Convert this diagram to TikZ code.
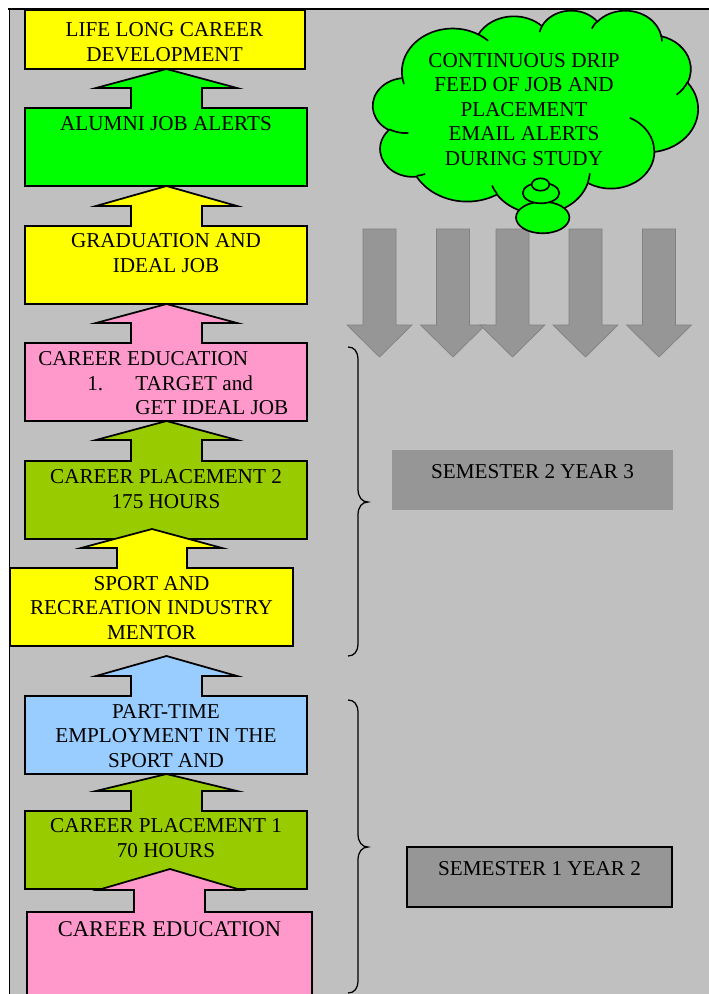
\documentclass[tikz,border=0pt]{standalone}
\usepackage{fontspec}
\setmainfont{Liberation Serif}
\definecolor{bg}{HTML}{C0C0C0}
\definecolor{cyel}{HTML}{FFFF00}
\definecolor{cgrn}{HTML}{00FF00}
\definecolor{cpnk}{HTML}{FF99CC}
\definecolor{colv}{HTML}{99CC00}
\definecolor{cblu}{HTML}{99CCFF}
\definecolor{cgry}{HTML}{969696}
% parametric start/end angles of a DrawingML arcTo (visual angles)
\newcommand\setarc[6]{%
  \pgfmathsetmacro#1{atan2((#3)*sin(#5),(#4)*cos(#5))}%
  \pgfmathsetmacro\tmpE{atan2((#3)*sin((#5)+(#6)),(#4)*cos((#5)+(#6)))}%
  \pgfmathsetmacro#2{#1+mod(\tmpE-#1+720,360)}%
}
\setarc\oAs\oAe{67.53}{91.90}{-190.48748}{123.78053}
\setarc\oBs\oBe{53.33}{72.67}{-144.10238}{89.94523}
\setarc\oCs\oCe{43.65}{59.45}{-145.80792}{99.72302}
\setarc\oDs\oDe{48.57}{65.95}{-130.98607}{117.24173}
\setarc\oEs\oEe{53.33}{72.73}{-78.70888}{109.02692}
\setarc\oFs\oFe{67.75}{92.20}{-46.26725}{130.269}
\setarc\oGs\oGe{57.85}{78.67}{0.62502}{114.03333}
\setarc\oHs\oHe{67.52}{92.15}{22.4516}{115.17255}
\setarc\oIs\oIe{77.20}{105.43}{66.24263}{75.71102}
\setarc\oJs\oJe{43.60}{59.18}{-274.94208}{146.73557}
\setarc\oKs\oKe{43.45}{59.45}{-246.8285}{152.51885}
\setarc\iLs\iLe{43.45}{59.45}{86.742}{26.4295}
\setarc\iMs\iMe{43.60}{59.18}{73.61047}{11.44747}
\setarc\iNs\iNe{67.52}{92.15}{137.62415}{14.0811}
\setarc\iOs\iOe{67.52}{92.15}{6.45327}{15.99835}
\setarc\iPs\iPe{57.85}{78.67}{-70.29235}{70.91737}
\setarc\iQs\iQe{53.33}{72.73}{30.31803}{27.7515}
\setarc\iRs\iRe{48.57}{65.95}{-13.74433}{14.8589}
\setarc\iSs\iSe{48.57}{65.95}{-149.18145}{18.19537}
\setarc\iTs\iTe{43.65}{59.45}{-163.49427}{17.68635}
\setarc\iUs\iUe{67.53}{91.90}{-66.70695}{12.31935}
\setarc\iVs\iVe{67.53}{91.90}{157.65435}{11.85817}
\tikzset{
  callout/.style={draw=black, line width=1.05pt, line join=miter},
  txt/.style={inner sep=0pt, anchor=base, align=center, font=\fontsize{12.7}{14.7}\selectfont},
  txtl/.style={inner sep=0pt, anchor=base west, font=\fontsize{12.7}{14.7}\selectfont},
  darr/.style={fill=cgry, draw=cgry!85!black, line width=0.4pt},
  bracel/.style={draw=black, line width=0.75pt},
  cloudline/.style={draw=black, line width=1pt},
}
\begin{document}
\begin{tikzpicture}[x=0.6pt, y=-0.6pt, line join=miter]
\useasboundingbox (0,0) rectangle (708,994);
% frame
\fill[bg] (9.5,9) rectangle (712,1000);
\draw[line width=1.1pt] (8,9) -- (712,9);
\draw[line width=0.7pt] (9.6,9) -- (9.6,1000);
% grey down arrows
\foreach \c in {379.5,453,512.5,585.5,659}
  \draw[darr] (\c-16.5,229) -- (\c+16.5,229) -- (\c+16.5,325) -- (\c+32.5,325)
     -- (\c,357) -- (\c-32.5,325) -- (\c-16.5,325) -- cycle;
% cloud
\begin{scope}[shift={(373,10)}, xscale=0.75231, yscale=0.46991]
\draw[cloudline, fill=cgrn] (39.00,143.70)
  arc[start angle=\oAs, end angle=\oAe, x radius=67.53, y radius=91.90]
  arc[start angle=\oBs, end angle=\oBe, x radius=53.33, y radius=72.67]
  arc[start angle=\oCs, end angle=\oCe, x radius=43.65, y radius=59.45]
  arc[start angle=\oDs, end angle=\oDe, x radius=48.57, y radius=65.95]
  arc[start angle=\oEs, end angle=\oEe, x radius=53.33, y radius=72.73]
  arc[start angle=\oFs, end angle=\oFe, x radius=67.75, y radius=92.20]
  arc[start angle=\oGs, end angle=\oGe, x radius=57.85, y radius=78.67]
  arc[start angle=\oHs, end angle=\oHe, x radius=67.52, y radius=92.15]
  arc[start angle=\oIs, end angle=\oIe, x radius=77.20, y radius=105.43]
  arc[start angle=\oJs, end angle=\oJe, x radius=43.60, y radius=59.18]
  arc[start angle=\oKs, end angle=\oKe, x radius=43.45, y radius=59.45]
  -- cycle;
\draw[cloudline]
  (46.93,261.77) arc[start angle=\iLs, end angle=\iLe, x radius=43.45, y radius=59.45]
  (69.28,348.99) arc[start angle=\iMs, end angle=\iMe, x radius=43.60, y radius=59.18]
  (164.78,390.90) arc[start angle=\iNs, end angle=\iNe, x radius=67.52, y radius=92.15]
  (288.27,347.51) arc[start angle=\iOs, end angle=\iOe, x radius=67.52, y radius=92.15]
  (341.29,229.54) arc[start angle=\iPs, end angle=\iPe, x radius=57.85, y radius=78.67]
  (417.98,153.54) arc[start angle=\iQs, end angle=\iQe, x radius=53.33, y radius=72.73]
  (383.24,54.26) arc[start angle=\iRs, end angle=\iRe, x radius=48.57, y radius=65.95]
  (290.78,39.52) arc[start angle=\iSs, end angle=\iSe, x radius=48.57, y radius=65.95]
  (221.41,47.20) arc[start angle=\iTs, end angle=\iTe, x radius=43.65, y radius=59.45]
  (140.00,51.92) arc[start angle=\iUs, end angle=\iUe, x radius=67.53, y radius=91.90]
  (41.27,157.89) arc[start angle=\iVs, end angle=\iVe, x radius=67.53, y radius=91.90];
\end{scope}
\draw[cloudline, fill=cgrn] (542.7,217.5) ellipse [x radius=26.7, y radius=15.8];
\draw[cloudline, fill=cgrn] (541,193) ellipse [x radius=18.3, y radius=10.3];
\draw[cloudline, fill=cgrn] (540.5,184.5) ellipse [x radius=8.8, y radius=6.2];
\node[txt] (cloudtxt) at (524,165) {CONTINUOUS DRIP\\FEED OF JOB AND\\PLACEMENT\\EMAIL ALERTS\\DURING STUDY};
% callouts, top to bottom
\draw[callout, fill=cyel] (25,10) rectangle (305,69);
\node[txt] (life) at (164.5,61) {LIFE LONG CAREER\\DEVELOPMENT};
\draw[callout, fill=cgrn] (25,186) -- (25,108) -- (131,108) -- (131,88) -- (96,88) -- (166.5,69)
  -- (237,88) -- (202,88) -- (202,108) -- (307,108) -- (307,186) -- cycle;
\node[txt] (alumni) at (166,130) {ALUMNI JOB ALERTS};
\draw[callout, fill=cyel] (25,304) -- (25,226) -- (131,226) -- (131,206) -- (96,206) -- (166.5,186)
  -- (237,206) -- (202,206) -- (202,226) -- (307,226) -- (307,304) -- cycle;
\node[txt] (grad) at (166,272) {GRADUATION AND\\IDEAL JOB};
\draw[callout, fill=cpnk] (25,421) -- (25,343) -- (131,343) -- (131,323) -- (96,323) -- (166.5,304)
  -- (237,323) -- (202,323) -- (202,343) -- (307,343) -- (307,421) -- cycle;
\node[txtl] (ce1a) at (38,365) {CAREER EDUCATION};
\node[txtl] (ce1b) at (87,390) {1.};
\node[txtl] (ce1c) at (135,390) {TARGET and};
\node[txtl] (ce1d) at (135,414) {GET IDEAL JOB};
\draw[callout, fill=colv] (25,539) -- (25,461) -- (131,461) -- (131,440) -- (96,440) -- (166.5,421)
  -- (237,440) -- (202,440) -- (202,461) -- (307,461) -- (307,539) -- cycle;
\node[txt] (cp2) at (166,508) {CAREER PLACEMENT 2\\175 HOURS};
\draw[callout, fill=cyel] (10,646) -- (10,568) -- (117,568) -- (117,548) -- (81,548) -- (152,529)
  -- (222,548) -- (187,548) -- (187,568) -- (293,568) -- (293,646) -- cycle;
\node[txt] (sport) at (151.5,639) {SPORT AND\\RECREATION INDUSTRY\\MENTOR};
\draw[callout, fill=cblu] (25,774) -- (25,696) -- (131,696) -- (131,676) -- (96,676) -- (166.5,656)
  -- (237,676) -- (202,676) -- (202,696) -- (307,696) -- (307,774) -- cycle;
\node[txt] (part) at (166,767) {PART-TIME\\EMPLOYMENT IN THE\\SPORT AND};
\draw[callout, fill=colv] (25,889) -- (25,811) -- (131,811) -- (131,791) -- (96,791) -- (166.5,774)
  -- (237,791) -- (202,791) -- (202,811) -- (307,811) -- (307,889) -- cycle;
\node[txt] (cp1) at (166,857) {CAREER PLACEMENT 1\\70 HOURS};
\draw[callout, fill=cpnk] (27,1005) -- (27,912) -- (134,912) -- (134,890) -- (98,890) -- (170,869)
  -- (241,890) -- (205,890) -- (205,912) -- (312,912) -- (312,1005) -- cycle;
\node[txt, font=\fontsize{13.5}{15.5}\selectfont] (ce0) at (169.5,936) {CAREER EDUCATION};
% braces
\draw[bracel] (348,347) .. controls (354,347) and (358,351) .. (358,360) -- (358,489)
  .. controls (358,497) and (362,502) .. (368,502) .. controls (362,502) and (358,507) .. (358,515)
  -- (358,643) .. controls (358,652) and (354,656) .. (348,656);
\draw[bracel] (348,700) .. controls (354,700) and (358,704) .. (358,713) -- (358,834)
  .. controls (358,842) and (362,847) .. (368,847) .. controls (362,847) and (358,852) .. (358,860)
  -- (358,980) .. controls (358,989) and (354,993) .. (348,993);
% semester labels
\fill[cgry] (392,450) rectangle (673,510);
\node[txt] (sem2) at (532.5,478) {SEMESTER 2 YEAR 3};
\draw[fill=cgry, line width=0.8pt] (407,847) rectangle (672,907);
\node[txt] (sem1) at (539.5,875) {SEMESTER 1 YEAR 2};
\end{tikzpicture}
\end{document}
